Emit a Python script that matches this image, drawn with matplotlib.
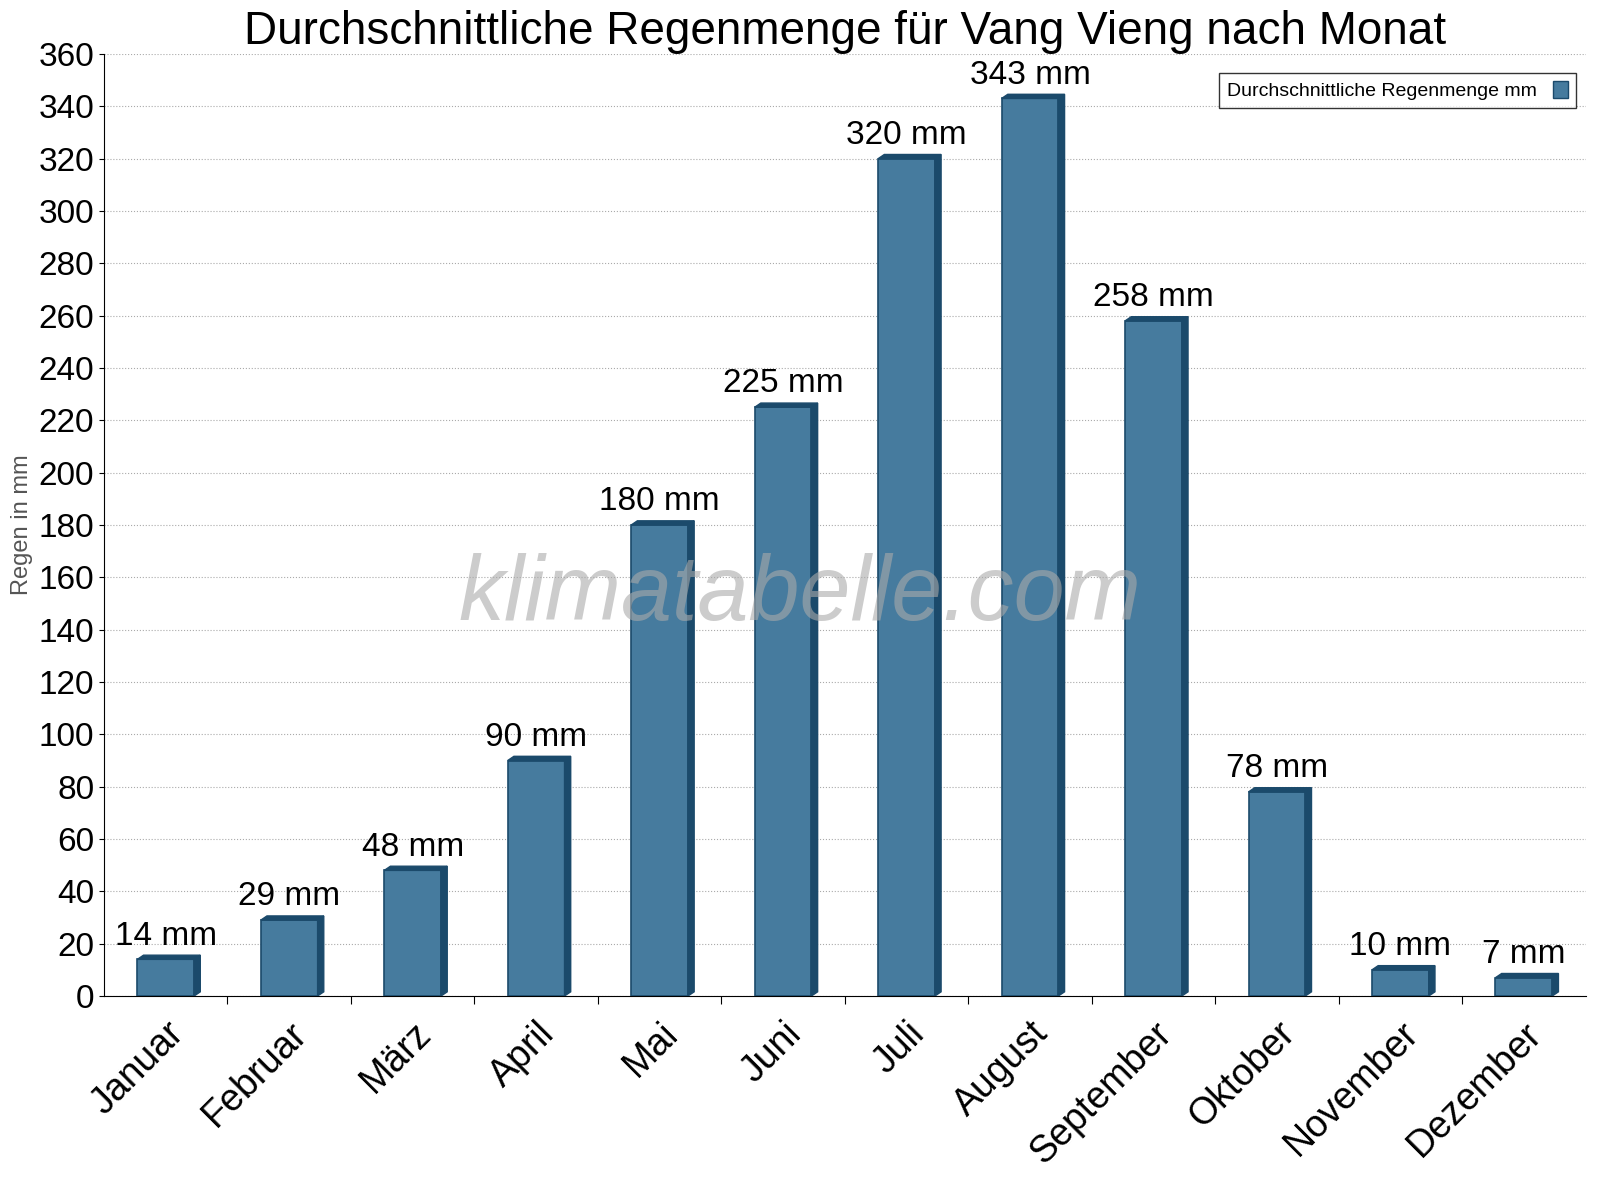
import matplotlib
matplotlib.use("Agg")
import matplotlib.pyplot as plt
from matplotlib.patches import Polygon, Patch

plt.rcParams["font.family"] = "Liberation Sans"

months = ["Januar", "Februar", "März", "April", "Mai", "Juni", "Juli",
          "August", "September", "Oktober", "November", "Dezember"]
rain = [14, 29, 48, 90, 180, 225, 320, 343, 258, 78, 10, 7]

fig = plt.figure(figsize=(16, 12), dpi=100)
ax = fig.add_axes([0.065, 0.17, 0.926, 0.785])

face = "#467b9e"
dark = "#1b4a6b"
w = 0.46
dx, dy = 0.05, 1.6
for i, v in enumerate(rain):
    x0 = i - w / 2
    ax.bar(i, v, width=w, color=face, edgecolor=dark, linewidth=1.2, zorder=3)
    ax.add_patch(Polygon([(x0 + w, 0), (x0 + w + dx, dy), (x0 + w + dx, v + dy), (x0 + w, v)],
                         closed=True, facecolor=dark, edgecolor=dark, zorder=3))
    ax.add_patch(Polygon([(x0, v), (x0 + dx, v + dy), (x0 + w + dx, v + dy), (x0 + w, v)],
                         closed=True, facecolor=dark, edgecolor=dark, zorder=3))
    ax.text(i, v + 3, f"{v} mm", ha="center", va="bottom", fontsize=24, zorder=4)

ax.set_xlim(-0.5, 11.5)
ax.set_ylim(0, 360)
ax.set_yticks(range(0, 361, 20))
ax.tick_params(axis="y", labelsize=24)
ax.set_xticks([i + 0.5 for i in range(11)], minor=False)
ax.set_xticklabels([])
ax.tick_params(axis="x", which="major", length=6)
ax.set_xticks(range(12), minor=True)
ax.set_xticklabels(months, minor=True, rotation=45, ha="right", rotation_mode="anchor", fontsize=27)
ax.tick_params(axis="x", which="minor", length=0, pad=14)
ax.grid(axis="y", linestyle=":", color="#aaaaaa", zorder=0)
for s in ["top", "right"]:
    ax.spines[s].set_visible(False)

ax.set_ylabel("Regen in mm", fontsize=17, color="#555555")
ax.set_xlabel("Monat", fontsize=18, color="#555555", labelpad=30)
ax.set_title("Durchschnittliche Regenmenge für Vang Vieng nach Monat", fontsize=33, pad=6)

ax.text(0.47, 0.425, "klimatabelle.com", transform=ax.transAxes, ha="center", va="center",
        fontsize=66, style="italic", color="#aaaaaa", alpha=0.6, zorder=5)

ax.legend(handles=[Patch(facecolor=face, edgecolor=dark, label="Durchschnittliche Regenmenge mm")],
          loc="upper right", markerfirst=False, fontsize=14, fancybox=False, edgecolor="black",
          handlelength=0.8, handleheight=1.0, bbox_to_anchor=(1.0, 0.99))

fig.savefig("out.png")
